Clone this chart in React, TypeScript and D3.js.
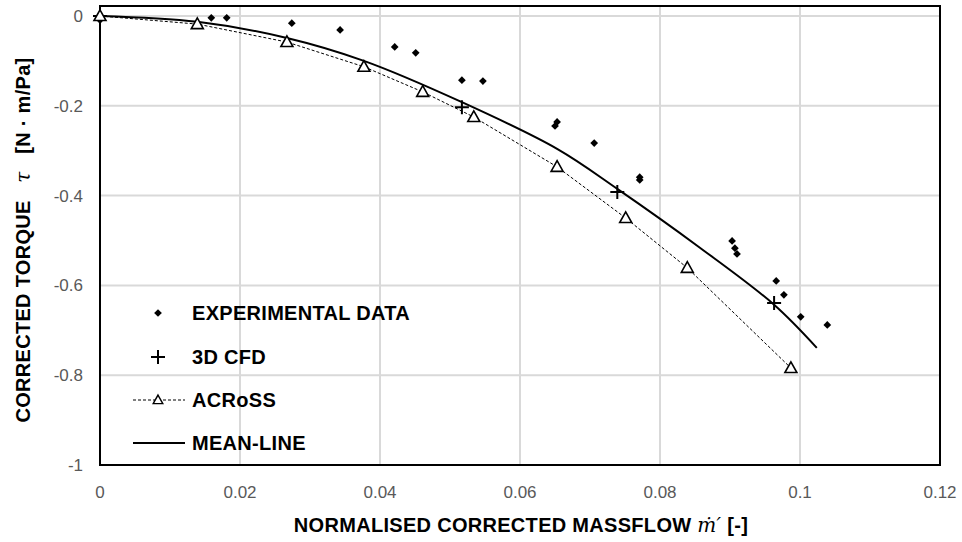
import React from 'react';
import * as d3 from 'd3';

// experimental data (diamonds)
const expX = [0, 0.0159, 0.0181, 0.0274, 0.0343, 0.0421, 0.0451, 0.0517, 0.0547, 0.0653, 0.065, 0.0706, 0.0771, 0.0771, 0.0903, 0.0907, 0.091, 0.0966, 0.0977, 0.1001, 0.1039];
const expY = [-0.009, -0.004, -0.004, -0.016, -0.031, -0.069, -0.082, -0.143, -0.145, -0.236, -0.245, -0.283, -0.359, -0.365, -0.501, -0.517, -0.53, -0.59, -0.621, -0.67, -0.688];

// 3D CFD (plus)
const cfdX = [0, 0.0517, 0.0739, 0.0963];
const cfdY = [0, -0.203, -0.392, -0.639];

// ACRoSS (dashed + triangles)
const acrossX = [0, 0.0139, 0.0267, 0.0377, 0.0461, 0.0534, 0.0653, 0.0751, 0.0839, 0.0987];
const acrossY = [0, -0.018, -0.058, -0.113, -0.169, -0.225, -0.336, -0.45, -0.561, -0.784];

// mean-line
const meanX = [0, 0.0139, 0.0267, 0.0377, 0.0517, 0.0653, 0.0739, 0.0857, 0.0963, 0.1024];
const meanY = [0, -0.013, -0.049, -0.1, -0.192, -0.296, -0.385, -0.516, -0.643, -0.739];

const xTicks = [0, 0.02, 0.04, 0.06, 0.08, 0.1, 0.12];
const yTicks = [0, -0.2, -0.4, -0.6, -0.8, -1];

const W = 962;
const H = 542;
const font = '"Liberation Sans", Arial, sans-serif';
const tickColor = '#595959';

const App = () => {
  const x = d3.scaleLinear().domain([0, 0.12]).range([100, 940]);
  const y = d3.scaleLinear().domain([-1, 0]).range([465, 16]);

  const meanLine = d3.line<number>()
    .x((d, i) => x(meanX[i]))
    .y(d => y(d))
    .curve(d3.curveCatmullRom);

  const acrossLine = d3.line<number>()
    .x((d, i) => x(acrossX[i]))
    .y(d => y(d));

  const diamond = d3.symbol().type(d3.symbolDiamond2).size(38)();
  const tri = (cx: number, cy: number, s: number) =>
    `M${cx},${cy - s * 0.62}L${cx + s * 0.6},${cy + s * 0.45}L${cx - s * 0.6},${cy + s * 0.45}Z`;
  const plus = (cx: number, cy: number, s: number) =>
    `M${cx - s},${cy}H${cx + s}M${cx},${cy - s}V${cy + s}`;

  const legendItems = ['EXPERIMENTAL DATA', '3D CFD', 'ACRoSS', 'MEAN-LINE'];
  const legendY = [313, 357, 400, 443];

  return (
    <svg width={W} height={H} style={{ position: 'absolute', left: 0, top: 0, background: '#fff' }}>
      {/* grid */}
      {xTicks.slice(1, -1).map(t => (
        <line key={'gx' + t} x1={x(t)} x2={x(t)} y1={6} y2={465} stroke="#d9d9d9" strokeWidth={2} />
      ))}
      {yTicks.slice(0, -1).map(t => (
        <line key={'gy' + t} x1={100} x2={940} y1={y(t)} y2={y(t)} stroke="#d9d9d9" strokeWidth={2} />
      ))}
      {/* frame */}
      <rect x={100} y={6} width={840} height={459} fill="none" stroke="#000" strokeWidth={2} />

      {/* tick labels */}
      {xTicks.map(t => (
        <text key={'tx' + t} x={x(t)} y={498} textAnchor="middle" fontFamily={font} fontSize={17} fill={tickColor}>
          {String(t)}
        </text>
      ))}
      {yTicks.map(t => (
        <text key={'ty' + t} x={83} y={y(t) + 6} textAnchor="end" fontFamily={font} fontSize={17} fill={tickColor}>
          {String(t)}
        </text>
      ))}

      {/* axis titles */}
      <text x={521} y={532} textAnchor="middle" fontFamily={font} fontSize={20} fontWeight="bold" letterSpacing={0.3} fill="#000">
        NORMALISED CORRECTED MASSFLOW{' '}
        <tspan fontFamily='"DejaVu Serif", serif' fontStyle="italic" fontWeight="normal">ṁ′</tspan> [-]
      </text>
      <text transform="translate(30,240) rotate(-90)" textAnchor="middle" fontFamily={font} fontSize={20} fontWeight="bold" letterSpacing={0.3} fill="#000" style={{ whiteSpace: 'pre' }}>
        {'CORRECTED TORQUE   '}
        <tspan fontFamily='"DejaVu Serif", serif' fontStyle="italic" fontWeight="normal">τ</tspan>
        {'   [N · m/Pa]'}
      </text>

      {/* series */}
      <path d={acrossLine(acrossY) || ''} fill="none" stroke="#000" strokeWidth={1} strokeDasharray="3,2" />
      <path d={meanLine(meanY) || ''} fill="none" stroke="#000" strokeWidth={2} />
      {expX.map((v, i) => (
        <path key={'e' + i} d={diamond} transform={`translate(${x(v)},${y(expY[i])})`} fill="#000" />
      ))}
      {cfdX.map((v, i) => (
        <path key={'c' + i} d={plus(x(v), y(cfdY[i]), 7)} stroke="#000" strokeWidth={2} fill="none" />
      ))}
      {acrossX.map((v, i) => (
        <path key={'a' + i} d={tri(x(v), y(acrossY[i]), 10)} stroke="#000" strokeWidth={1.6} fill="#fff" />
      ))}

      {/* legend */}
      <path d={diamond} transform={`translate(158,${legendY[0]})`} fill="#000" />
      <path d={plus(158, legendY[1], 7)} stroke="#000" strokeWidth={2} fill="none" />
      <line x1={133} x2={185} y1={legendY[2]} y2={legendY[2]} stroke="#000" strokeWidth={1} strokeDasharray="3,2" />
      <path d={tri(158, legendY[2], 8)} stroke="#000" strokeWidth={1.4} fill="#fff" />
      <line x1={133} x2={185} y1={legendY[3]} y2={legendY[3]} stroke="#000" strokeWidth={2} />
      {legendItems.map((t, i) => (
        <text key={t} x={192} y={legendY[i] + 7} fontFamily={font} fontSize={20} fontWeight="bold" letterSpacing={0.3} fill="#000">
          {t}
        </text>
      ))}
    </svg>
  );
};

export default App;
